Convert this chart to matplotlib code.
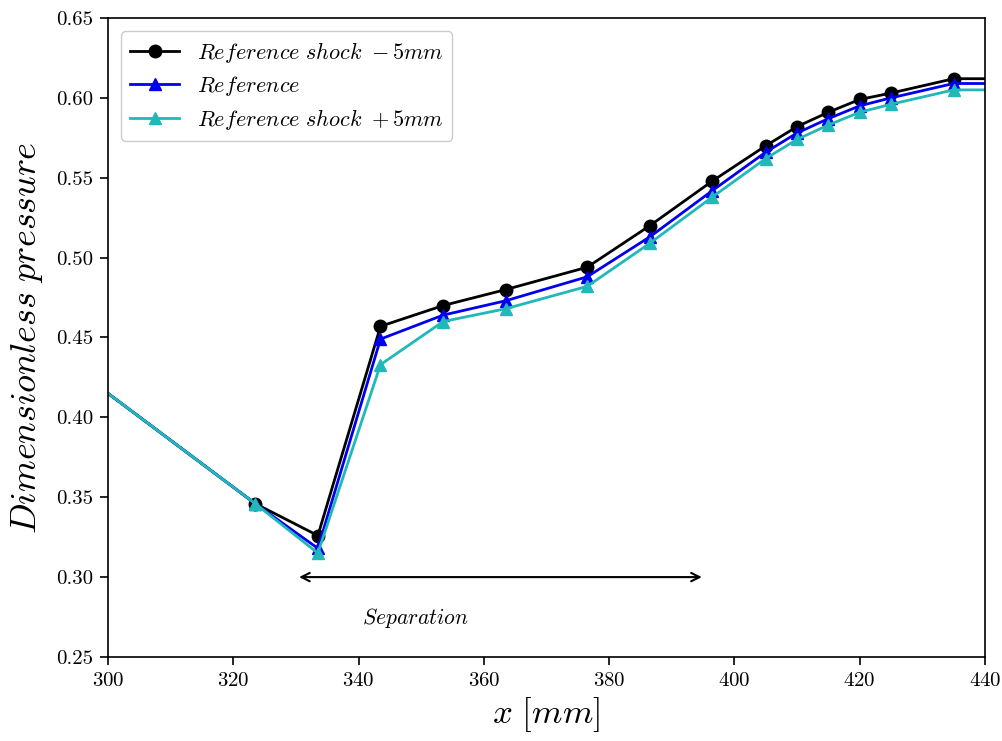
import matplotlib
matplotlib.use("Agg")
import matplotlib.pyplot as plt

plt.rcParams['font.family'] = ['cmr10', 'DejaVu Serif']
plt.rcParams['mathtext.fontset'] = 'cm'
plt.rcParams['axes.unicode_minus'] = False
plt.rcParams['axes.formatter.use_mathtext'] = True

x = [300.0, 323.5, 333.5, 343.5, 353.5, 363.5, 376.5, 386.5, 396.5, 405, 410, 415, 420, 425, 435, 440]
shock_minus5 = [0.415, 0.346, 0.326, 0.457, 0.470, 0.480, 0.494, 0.520, 0.548, 0.570, 0.582, 0.591, 0.599, 0.603, 0.612, 0.612]
reference = [0.415, 0.346, 0.318, 0.449, 0.464, 0.473, 0.488, 0.513, 0.542, 0.566, 0.578, 0.587, 0.595, 0.600, 0.609, 0.609]
shock_plus5 = [0.415, 0.346, 0.315, 0.433, 0.460, 0.468, 0.482, 0.509, 0.538, 0.562, 0.574, 0.583, 0.591, 0.596, 0.605, 0.605]
labels = [r'$Reference\ shock\ -5mm$', r'$Reference$', r'$Reference\ shock\ +5mm$']
xticks = [300, 320, 340, 360, 380, 400, 420, 440]
yticks = [0.25, 0.30, 0.35, 0.40, 0.45, 0.50, 0.55, 0.60, 0.65]
sep_start, sep_end, sep_y = 330.5, 394.8, 0.300

fig = plt.figure(figsize=(10.03, 7.41), dpi=100)
ax = fig.add_axes([0.1077, 0.1134, 0.8743, 0.8623])

marks = list(range(1, len(x) - 1))
ax.plot(x, shock_minus5, '-o', color='black', lw=2, ms=9, markevery=marks, label=labels[0])
ax.plot(x, reference, '-^', color='#0000ee', lw=2, ms=9, markevery=marks, label=labels[1])
ax.plot(x, shock_plus5, '-^', color='#20b8b8', lw=2, ms=9, markevery=marks, label=labels[2])

ax.annotate('', xy=(sep_start, sep_y), xytext=(sep_end, sep_y),
            arrowprops=dict(arrowstyle='<->', color='black', lw=1.5, mutation_scale=15,
                            shrinkA=0, shrinkB=0))
ax.text(349, 0.2745, r'$Separation$', ha='center', va='center', fontsize=15.5)

ax.set_xlim(300, 440)
ax.set_ylim(0.25, 0.65)
ax.set_xticks(xticks)
ax.set_yticks(yticks)
ax.set_yticklabels([f'{v:.2f}' for v in yticks])
ax.tick_params(labelsize=15, width=1.2, length=5.5, pad=5)
for s in ax.spines.values():
    s.set_linewidth(1.2)

ax.set_xlabel(r'$x\ [mm]$', fontsize=25, labelpad=4)
ax.set_ylabel(r'$Dimensionless\ pressure$', fontsize=26, labelpad=8)

ax.legend(loc='upper left', fontsize=16, handlelength=2.2, framealpha=1, edgecolor='#cccccc',
          fancybox=True, borderaxespad=0.6, labelspacing=0.4)

fig.savefig('out.png', dpi=100)
